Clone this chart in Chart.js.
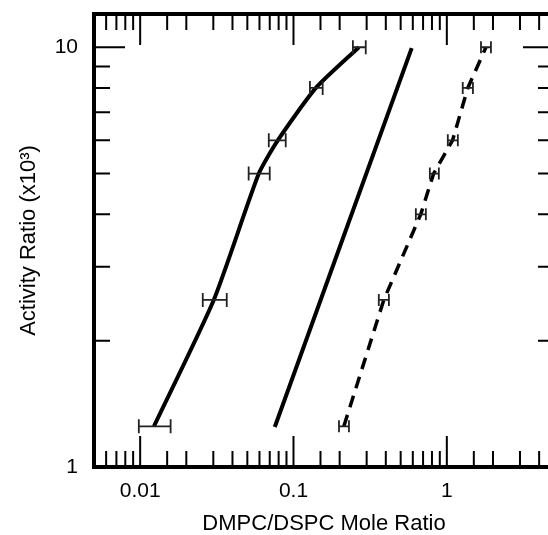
<!DOCTYPE html>
<html>
<head>
<meta charset="utf-8">
<title>Activity Ratio vs DMPC/DSPC Mole Ratio</title>
<script src="https://cdn.jsdelivr.net/npm/chart.js@4/dist/chart.umd.min.js"></script>
<style>
    html, body { margin: 0; padding: 0; background: #fff; overflow: hidden; }
    #wrap { width: 560px; height: 535px; }
</style>
</head>
<body>
<div id="wrap"><canvas id="chart" width="560" height="535"></canvas></div>
<script>
// Curve A - solid line, with error bars
const ratioA = [0.0123, 0.0302, 0.0594, 0.079, 0.14, 0.267];
const activityA = [1.25, 2.5, 5, 6, 8, 10];
const ratioALow = [0.0098, 0.0256, 0.051, 0.069, 0.128, 0.244];
const ratioAHigh = [0.0158, 0.0367, 0.070, 0.089, 0.155, 0.296];

// Curve B - solid line, no error bars
const ratioB = [0.0755, 0.18, 0.59];
const activityB = [1.245, 3, 9.95];

// Curve C - dashed line, with error bars
const ratioC = [0.213, 0.388, 0.676, 0.82, 1.09, 1.37, 1.80];
const activityC = [1.25, 2.5, 4, 5, 6, 8, 10];
const ratioCLow = [0.198, 0.36, 0.628, 0.775, 1.015, 1.27, 1.67];
const ratioCHigh = [0.23, 0.419, 0.73, 0.887, 1.18, 1.48, 1.94];

// Axis ranges and labelled ticks
const xRange = [0.005, 5];
const yRange = [1, 12];
const xTickValues = [0.01, 0.1, 1];
const xTickLabels = ['0.01', '0.1', '1'];
const yTickValues = [1, 10];
const yTickLabels = ['1', '10'];

const FONT = "'Liberation Sans', Arial, Helvetica, sans-serif";

function toPoints(xs, ys) {
    return xs.map((x, i) => ({ x: x, y: ys[i] }));
}

function labelFor(value, values, labels) {
    const i = values.findIndex(v => Math.abs(value - v) / v < 1e-6);
    return i >= 0 ? labels[i] : '';
}

function isDecade(v) {
    const l = Math.log10(v);
    return Math.abs(l - Math.round(l)) < 1e-6;
}

const errorSets = [
    { x: ratioA, y: activityA, low: ratioALow, high: ratioAHigh, cap: 7 },
    { x: ratioC, y: activityC, low: ratioCLow, high: ratioCHigh, cap: 6 }
];

// Horizontal error bars with end caps
const errorBars = {
    id: 'errorBars',
    afterDatasetsDraw(chart) {
        const { ctx, scales: { x, y } } = chart;
        ctx.save();
        ctx.strokeStyle = '#222';
        ctx.lineWidth = 1.8;
        errorSets.forEach(set => {
            set.y.forEach((yv, i) => {
                const py = y.getPixelForValue(yv);
                const x1 = x.getPixelForValue(set.low[i]);
                const x2 = x.getPixelForValue(set.high[i]);
                ctx.beginPath();
                ctx.moveTo(x1, py); ctx.lineTo(x2, py);
                ctx.moveTo(x1, py - set.cap); ctx.lineTo(x1, py + set.cap);
                ctx.moveTo(x2, py - set.cap); ctx.lineTo(x2, py + set.cap);
                ctx.stroke();
            });
        });
        ctx.restore();
    }
};

// Box frame with inward ticks on all four sides
const frameTicks = {
    id: 'frameTicks',
    afterDraw(chart) {
        const { ctx, chartArea: a, scales: { x, y } } = chart;
        ctx.save();
        ctx.strokeStyle = '#000';
        ctx.lineWidth = 2;
        ctx.beginPath();
        x.ticks.forEach(t => {
            if (t.value <= x.min * 1.0001 || t.value >= x.max * 0.9999) return;
            const px = x.getPixelForValue(t.value);
            const len = isDecade(t.value) ? 31 : 16;
            ctx.moveTo(px, a.bottom); ctx.lineTo(px, a.bottom - len);
            ctx.moveTo(px, a.top); ctx.lineTo(px, a.top + len);
        });
        y.ticks.forEach(t => {
            if (t.value <= y.min * 1.0001 || t.value >= y.max * 0.9999) return;
            const py = y.getPixelForValue(t.value);
            const len = isDecade(t.value) ? 31 : 16;
            ctx.moveTo(a.left, py); ctx.lineTo(a.left + len, py);
            ctx.moveTo(a.right, py); ctx.lineTo(a.right - len, py);
        });
        ctx.stroke();
        ctx.lineWidth = 4;
        ctx.strokeRect(a.left, a.top, a.right - a.left, a.bottom - a.top);
        ctx.restore();
    }
};

new Chart(document.getElementById('chart'), {
    type: 'line',
    data: {
        datasets: [
            {
                data: toPoints(ratioA, activityA),
                borderColor: '#000',
                borderWidth: 4,
                tension: 0.2,
                pointRadius: 0
            },
            {
                data: toPoints(ratioB, activityB),
                borderColor: '#000',
                borderWidth: 4,
                tension: 0,
                pointRadius: 0
            },
            {
                data: toPoints(ratioC, activityC),
                borderColor: '#000',
                borderWidth: 3.5,
                borderDash: [12, 8],
                tension: 0,
                pointRadius: 0
            }
        ]
    },
    options: {
        responsive: false,
        animation: false,
        layout: { padding: { top: 14, right: 6, left: 0, bottom: 0 } },
        plugins: {
            legend: { display: false },
            tooltip: { enabled: false }
        },
        scales: {
            x: {
                type: 'logarithmic',
                min: xRange[0],
                max: xRange[1],
                border: { display: false },
                grid: { display: false, drawTicks: false },
                ticks: {
                    autoSkip: false,
                    maxRotation: 0,
                    padding: 12,
                    color: '#000',
                    font: { family: FONT, size: 21 },
                    callback: v => labelFor(v, xTickValues, xTickLabels)
                },
                title: {
                    display: true,
                    text: 'DMPC/DSPC Mole Ratio',
                    color: '#000',
                    font: { family: FONT, size: 22, lineHeight: 1 },
                    padding: { top: 0, bottom: 0 }
                },
                afterFit: s => {
                    s.height = 68;
                    s.paddingLeft = 0;
                    s.paddingRight = 0;
                }
            },
            y: {
                type: 'logarithmic',
                min: yRange[0],
                max: yRange[1],
                border: { display: false },
                grid: { display: false, drawTicks: false },
                ticks: {
                    autoSkip: false,
                    padding: 16,
                    color: '#000',
                    font: { family: FONT, size: 21 },
                    callback: v => labelFor(v, yTickValues, yTickLabels)
                },
                title: {
                    display: true,
                    text: 'Activity Ratio (x10³)',
                    color: '#000',
                    font: { family: FONT, size: 22, lineHeight: 1 },
                    padding: { top: 18, bottom: 0 }
                },
                afterFit: s => {
                    s.width = 94;
                    s.paddingTop = 0;
                    s.paddingBottom = 0;
                }
            }
        }
    },
    plugins: [errorBars, frameTicks]
});
</script>
</body>
</html>
